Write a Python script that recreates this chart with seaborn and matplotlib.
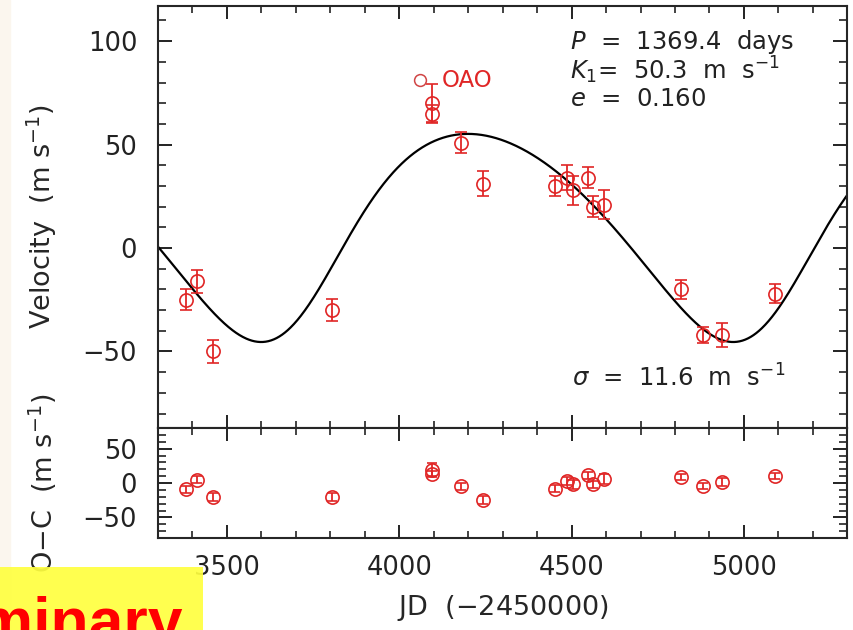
import numpy as np
import pandas as pd
import seaborn as sns
import matplotlib.pyplot as plt
from matplotlib.patches import Rectangle
from matplotlib.ticker import MultipleLocator

# Orbital solution (as printed on the panel)
P = 1369.4
K1 = 50.3
ecc = 0.160
omega = 217.0      # deg, estimated from the curve shape
T_peri = 3702.0    # JD-2450000, estimated
gamma = 11.3       # offset, estimated
sigma = 11.6

# Observations: JD-2450000, velocity, error, O-C
jd = [3380, 3414, 3461, 3806, 4094, 4094, 4178, 4242, 4453, 4488,
      4503, 4549, 4561, 4593, 4816, 4880, 4935, 5089]
vel = [-25, -16, -50, -30, 70, 65, 51, 31, 30, 34,
       28, 34, 20, 21, -20, -42, -42, -22]
err = [5, 5.5, 5.5, 5.5, 9.5, 4, 5, 6, 5, 6,
       7, 5, 5, 7, 4.5, 4, 6, 4.5]
oc = [-9, 5, -20, -20, 19, 13, -5, -25, -8, 3,
      -2, 11, -2, 6, 9, -4, 2, 10]

# OAO point
oao_jd = [4059]
oao_vel = [81]

red = '#e02626'

sns.set_style('ticks', {'xtick.direction': 'in', 'ytick.direction': 'in'})
plt.rcParams['font.family'] = ['DejaVu Sans']
plt.rcParams['mathtext.fontset'] = 'dejavusans'
plt.rcParams.update({
    'axes.linewidth': 1.5,
    'text.color': '#222222',
    'xtick.color': '#222222', 'ytick.color': '#222222',
    'xtick.top': True, 'ytick.right': True,
    'xtick.major.size': 9.5, 'ytick.major.size': 10,
    'xtick.minor.size': 5, 'ytick.minor.size': 5.5,
    'xtick.major.width': 1.4, 'ytick.major.width': 1.4,
    'xtick.minor.width': 1.2, 'ytick.minor.width': 1.2,
    'xtick.minor.visible': True, 'ytick.minor.visible': True,
    'xtick.labelsize': 18.5, 'ytick.labelsize': 18.5,
})


def kepler_rv(t):
    M = 2 * np.pi * (t - T_peri) / P
    E = M.copy()
    for _ in range(60):
        E = M + ecc * np.sin(E)
    nu = 2 * np.arctan2(np.sqrt(1 + ecc) * np.sin(E / 2),
                        np.sqrt(1 - ecc) * np.cos(E / 2))
    w = np.radians(omega)
    return gamma + K1 * (np.cos(nu + w) + ecc * np.cos(w))


t_model = np.linspace(3300, 5300, 1000)
curve = pd.DataFrame({'jd': t_model, 'vel': kepler_rv(t_model)})

fig = plt.figure(figsize=(8.54, 6.30), dpi=100)
fig.patch.set_facecolor('white')
ax1 = fig.add_axes([0.185, 0.3206, 0.8072, 0.6699])
ax2 = fig.add_axes([0.185, 0.146, 0.8072, 0.1746])

# --- velocity panel
sns.lineplot(data=curve, x='jd', y='vel', ax=ax1, color='black', lw=1.6)
ax1.errorbar(jd, vel, yerr=err, fmt='o', ms=9.5, mfc='none', mec=red,
             mew=1.2, ecolor=red, elinewidth=1.3, capsize=4.5, capthick=1.3)
ax1.plot(oao_jd, oao_vel, 'o', ms=8.5, mfc='none', mec='#d04545', mew=1.1)
ax1.text(4123, 81, 'OAO', color=red, fontsize=16.5, va='center', ha='left')

ax1.set_xlim(3300, 5300)
ax1.set_ylim(-87, 117)
ax1.xaxis.set_major_locator(MultipleLocator(500))
ax1.xaxis.set_minor_locator(MultipleLocator(100))
ax1.yaxis.set_major_locator(MultipleLocator(50))
ax1.yaxis.set_minor_locator(MultipleLocator(10))
ax1.tick_params(axis='x', labelbottom=False)
ax1.tick_params(axis='y', pad=15)
ax1.set_xlabel('')
ax1.set_ylabel('Velocity  (m s$^{-1}$)', fontsize=19.5)
ax1.yaxis.set_label_coords(-0.144, 0.5)

ax1.text(0.598, 0.915, '$P$  =  1369.4  days', transform=ax1.transAxes,
         fontsize=17.5, va='center')
ax1.text(0.598, 0.848, '$K_1$=  50.3  m  s$^{-1}$', transform=ax1.transAxes,
         fontsize=17.5, va='center')
ax1.text(0.598, 0.780, '$e$  =  0.160', transform=ax1.transAxes,
         fontsize=17.5, va='center')
ax1.text(0.600, 0.118, f'$\\sigma$  =  {sigma}  m  s$^{{-1}}$',
         transform=ax1.transAxes, fontsize=17.5, va='center')

# --- residual panel
ax2.errorbar(jd, oc, yerr=err, fmt='o', ms=9.5, mfc='none', mec=red,
             mew=1.2, ecolor=red, elinewidth=1.3, capsize=3.5, capthick=1.3)
ax2.set_xlim(3300, 5300)
ax2.set_ylim(-80, 80)
ax2.xaxis.set_major_locator(MultipleLocator(500))
ax2.xaxis.set_minor_locator(MultipleLocator(100))
ax2.yaxis.set_major_locator(MultipleLocator(50))
ax2.yaxis.set_minor_locator(MultipleLocator(10))
ax2.tick_params(axis='x', pad=12)
ax2.tick_params(axis='y', pad=15)
ax2.set_ylabel('O$-$C  (m s$^{-1}$)', fontsize=19.5)
ax2.yaxis.set_label_coords(-0.144, 0.5)
ax2.set_xlabel('JD  ($-$2450000)', fontsize=19.5)
ax2.xaxis.set_label_coords(0.5007, -0.5)

# page decorations from the slide
fig.add_artist(Rectangle((0, 0), 10 / 854, 1, transform=fig.transFigure,
                         color='#fbf6ee', zorder=0))
fig.add_artist(Rectangle((0, 0), 203 / 854, 63 / 630, transform=fig.transFigure,
                         color='#ffff40', alpha=0.92, zorder=10, lw=0))
fig.text(183 / 854, -12 / 630, 'Preliminary', ha='right', va='baseline',
         fontsize=45, fontweight='bold', color='#ff0000',
         family='Liberation Sans', zorder=11)

fig.savefig('out.png', dpi=100)
